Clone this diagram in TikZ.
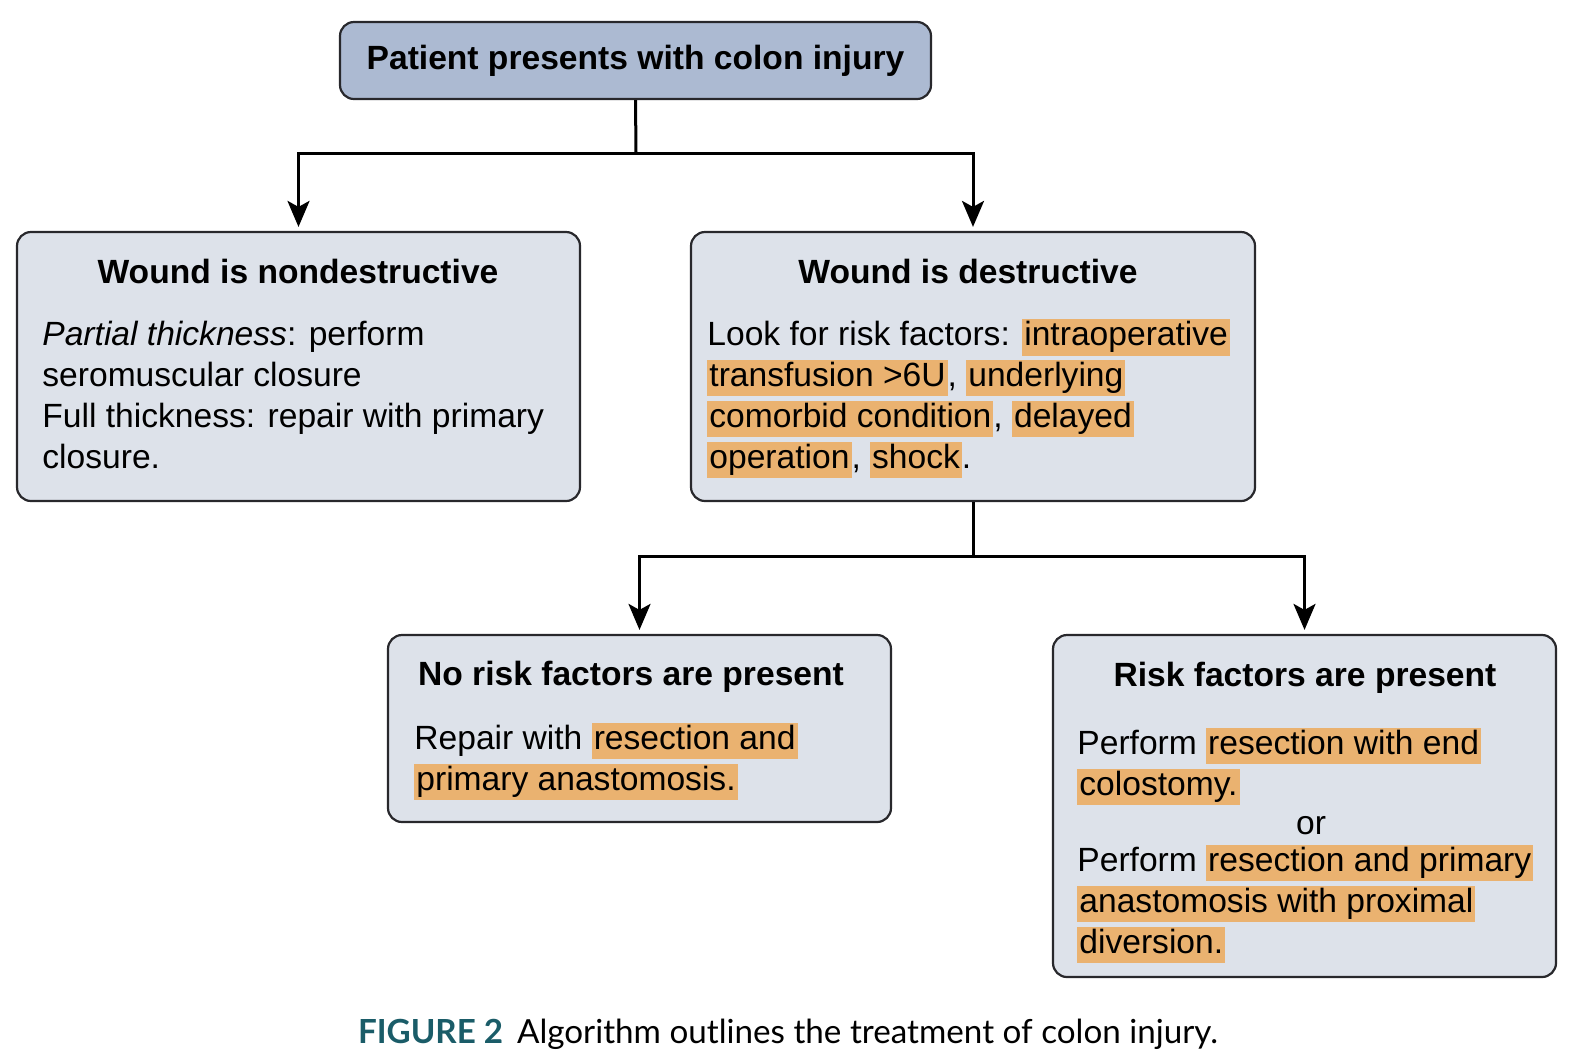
\documentclass[tikz,border=0pt]{standalone}
\usepackage{fontspec}
\setmainfont{Liberation Sans}
\newfontfamily\capfont{Lato}
\usetikzlibrary{arrows.meta}
\definecolor{topfill}{RGB}{172,186,210}
\definecolor{boxfill}{RGB}{221,226,234}
\definecolor{boxline}{RGB}{40,40,44}
\definecolor{hlorange}{RGB}{234,178,112}
\definecolor{figteal}{RGB}{26,92,104}
\newcommand{\bodyfont}{\fontsize{16.8}{20.4}\selectfont}
\newcommand{\hl}[1]{{\setlength{\fboxsep}{1pt}\colorbox{hlorange}{\rule[-4pt]{0pt}{15.5pt}#1}}}

\begin{document}
\begin{tikzpicture}[x=0.5pt, y=-0.5pt,
    box/.style={draw=boxline, fill=boxfill, rounded corners=7pt, line width=1.1pt, inner sep=0pt},
    head/.style={font=\bodyfont\bfseries, anchor=base, inner sep=0pt},
    body/.style={font=\bodyfont, align=left, anchor=base west, inner sep=0pt},
    arr/.style={-{Stealth[length=13pt, width=11pt, inset=3pt]}, line width=1.5pt, shorten >=2pt}]
    \useasboundingbox (0,0) rectangle (1578,1062);

    % boxes
    \node[box, fill=topfill, minimum width=295.5pt, minimum height=38.5pt, font=\bodyfont\bfseries] (patient) at (635.5,60.5) {Patient presents with colon injury};
    \node[box, minimum width=281.5pt, minimum height=134.5pt] (nondes) at (298.5,366.5) {};
    \node[box, minimum width=282pt, minimum height=134.5pt] (des) at (973,366.5) {};
    \node[box, minimum width=251.5pt, minimum height=93.5pt] (norisk) at (639.5,728.5) {};
    \node[box, minimum width=251.5pt, minimum height=171pt] (risk) at (1304.5,806) {};

    % texts (base = last line)
    \node[head] (nondesH) at (298,283) {Wound is nondestructive};
    \node[body] (nondesB) at (42,468) {\textit{Partial thickness}: perform\\ seromuscular closure\\ Full thickness: repair with primary\\ closure.};

    \node[head] (desH) at (968,283) {Wound is destructive};
    \node[body] (desB) at (707,468) {Look for risk factors: \hl{intraoperative}\\ \hl{transfusion >6U}, \hl{underlying}\\ \hl{comorbid condition}, \hl{delayed}\\ \hl{operation}, \hl{shock}.};

    \node[head] (noriskH) at (631,685) {No risk factors are present};
    \node[body] (noriskB) at (414,790) {Repair with \hl{resection and}\\ \hl{primary anastomosis.}};

    \node[head] (riskH) at (1305,686) {Risk factors are present};
    \node[body] (riskB1) at (1077,795) {Perform \hl{resection with end}\\ \hl{colostomy.}};
    \node[font=\bodyfont, anchor=base, inner sep=0pt] (riskOr) at (1311,834) {or};
    \node[body] (riskB2) at (1077,953) {Perform \hl{resection and primary}\\ \hl{anastomosis with proximal}\\ \hl{diversion.}};

    % connectors
    \coordinate (j1) at (636,153);
    \coordinate (j2) at (973,556);
    \draw[line width=1.5pt] (patient.south) -- (j1);
    \draw[arr] (j1) -| (nondes.north);
    \draw[arr] (j1) -| (des.north);
    \draw[line width=1.5pt] (des.south) -- (j2);
    \draw[arr] (j2) -| (norisk.north);
    \draw[arr] (j2) -| (risk.north);

    % caption
    \node[anchor=base, inner sep=0pt, font=\capfont\fontsize{16.6}{20}\selectfont] (caption) at (788,1043) {\textcolor{figteal}{\bfseries FIGURE 2}\hspace{7pt}Algorithm outlines the treatment of colon injury.};
\end{tikzpicture}
\end{document}
